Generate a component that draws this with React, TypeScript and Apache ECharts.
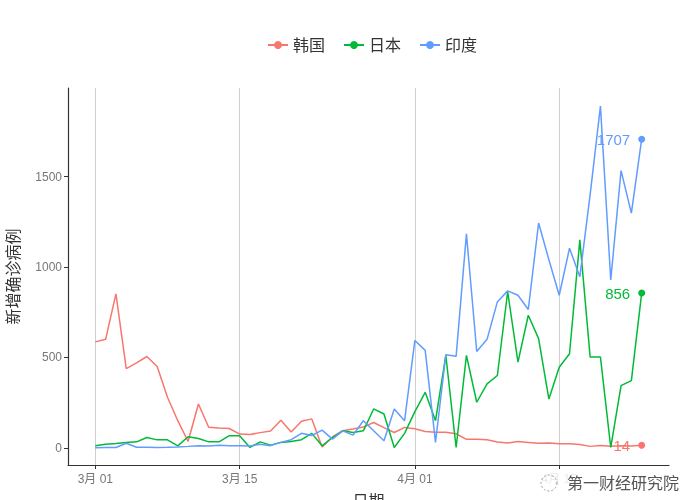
import React, { useEffect, useRef } from "react";
import * as echarts from "echarts";

// Day index 0 = 3月01 ... 53 = 4月23
const tickDays = [0, 14, 31, 45];
const tickLabels = ["3月 01", "3月 15", "4月 01", "4月 15"];
const yTicks = [0, 500, 1000, 1500];

const seriesNames = ["韩国", "日本", "印度"];
const seriesColors = ["#F8766D", "#00BA38", "#619CFF"];

const korea = [586, 600, 851, 438, 470, 505, 450, 280, 150, 35, 242, 114, 110, 107, 76, 74, 84, 93, 152, 87, 147, 160, 5, 60, 95, 104, 115, 140, 112, 85, 113, 105, 90, 86, 86, 78, 47, 47, 45, 32, 27, 35, 30, 25, 27, 22, 22, 18, 8, 13, 9, 11, 10, 14];
const japan = [11, 20, 24, 30, 33, 57, 44, 44, 11, 61, 52, 33, 33, 67, 67, 2, 33, 15, 30, 35, 45, 80, 11, 57, 94, 85, 94, 215, 187, 2, 80, 200, 307, 150, 511, 2, 511, 252, 354, 400, 863, 474, 733, 604, 270, 446, 520, 1150, 502, 502, 2, 344, 372, 856];
const india = [1, 2, 2, 25, 3, 3, 2, 3, 5, 8, 12, 10, 14, 12, 12, 10, 20, 12, 30, 45, 80, 68, 98, 48, 94, 70, 150, 94, 39, 215, 150, 594, 539, 30, 515, 506, 1183, 533, 600, 807, 868, 844, 765, 1243, 1040, 844, 1104, 946, 1400, 1890, 928, 1533, 1298, 1707];

const seriesValues = [korea, japan, india];

const FONT = "'Liberation Sans', 'Noto Sans CJK SC', sans-serif";

export default function App() {
  const ref = useRef<HTMLDivElement>(null);
  useEffect(() => {
    if (!ref.current) return;
    const chart = echarts.init(ref.current, undefined, { renderer: "svg" });
    const series = seriesValues.map((vals, si) => ({
      name: seriesNames[si],
      type: "line",
      symbol: "circle",
      symbolSize: 7,
      showSymbol: true,
      z: 3 + si,
      lineStyle: { width: 1.5, color: seriesColors[si] },
      itemStyle: { color: seriesColors[si] },
      emphasis: { disabled: true },
      data: vals.map((v, i) =>
        i === vals.length - 1
          ? {
              value: [i, v],
              symbol: "circle",
              label: {
                show: true,
                position: "left",
                distance: 8,
                formatter: String(v),
                color: seriesColors[si],
                fontSize: 15,
                fontFamily: FONT,
              },
            }
          : { value: [i, v], symbol: "none" }
      ),
    }));
    chart.setOption({
      animation: false,
      textStyle: { fontFamily: FONT },
      legend: {
        top: 32,
        left: 262,
        itemGap: 18,
        itemWidth: 20,
        itemHeight: 10,
        data: seriesNames,
        textStyle: { fontSize: 16, color: "#333", fontFamily: FONT },
      },
      grid: { left: 68, right: 31, top: 88, bottom: 35, outerBoundsMode: "none", containLabel: false },
      xAxis: {
        type: "value",
        min: -2.65,
        max: 55.65,
        name: "日期",
        nameLocation: "middle",
        nameGap: 28,
        nameTextStyle: { fontSize: 16, color: "#333", fontFamily: FONT },
        axisLine: { show: true, onZero: false, lineStyle: { color: "#333", width: 1.2 } },
        axisTick: { show: true, customValues: tickDays, length: 4, lineStyle: { color: "#333" } },
        axisLabel: {
          customValues: tickDays,
          formatter: (v: number) => {
            const k = tickDays.indexOf(Math.round(v));
            return k >= 0 ? tickLabels[k] : "";
          },
          color: "#777",
          fontSize: 12,
          margin: 8,
          fontFamily: FONT,
        },
        splitLine: { show: true, lineStyle: { color: "#cfcfcf", width: 1 } },
      },
      yAxis: {
        type: "value",
        min: -95,
        max: 1990,
        name: "新增确诊病例",
        nameLocation: "middle",
        nameGap: 47,
        nameTextStyle: { fontSize: 16, color: "#333", fontFamily: FONT },
        axisLine: { show: true, onZero: false, lineStyle: { color: "#333", width: 1.2 } },
        axisTick: { show: true, customValues: yTicks, length: 4, lineStyle: { color: "#333" } },
        axisLabel: {
          customValues: yTicks,
          formatter: (v: number) => String(v),
          color: "#777",
          fontSize: 12,
          margin: 6,
          fontFamily: FONT,
        },
        splitLine: { show: false },
      },
      graphic: [
        {
          type: "rect",
          left: 537,
          top: 470,
          shape: { width: 160, height: 26 },
          style: { fill: "rgba(255,255,255,0.85)" },
          z: 100,
        },
        {
          type: "circle",
          shape: { cx: 549, cy: 483, r: 8 },
          style: { fill: "none", stroke: "#999", lineWidth: 1, lineDash: [2, 2] },
          z: 101,
        },
        {
          type: "text",
          left: 567,
          top: 474,
          style: { text: "第一财经研究院", fontSize: 16, fill: "#555", fontFamily: "'Noto Sans CJK SC', sans-serif" },
          z: 101,
        },
      ],
      series,
    });
    return () => chart.dispose();
  }, []);
  return <div ref={ref} style={{ position: "fixed", left: 0, top: 0, width: 700, height: 500 }} />;
}
